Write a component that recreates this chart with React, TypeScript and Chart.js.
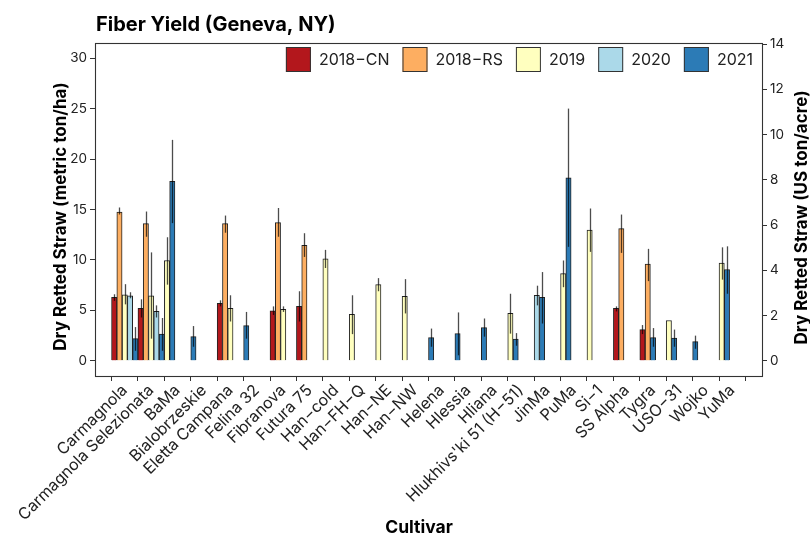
import React, { useEffect, useRef } from 'react';
import { Chart, registerables } from 'chart.js';

Chart.register(...registerables);

const N = null;

const CULTIVARS = [
  'Carmagnola', 'Carmagnola Selezionata', 'BaMa', 'Bialobrzeskie', 'Eletta Campana',
  'Felina 32', 'Fibranova', 'Futura 75', 'Han−cold', 'Han−FH−Q', 'Han−NE', 'Han−NW',
  'Helena', 'Hlessia', 'Hliana', "Hlukhivs'ki 51 (H−51)", 'JinMa', 'PuMa', 'Si−1',
  'SS Alpha', 'Tygra', 'USO−31', 'Wojko', 'YuMa',
];

const YEARS = ['2018−CN', '2018−RS', '2019', '2020', '2021'];
const COLORS = ['#B3171C', '#FDAE61', '#FFFFBF', '#ABD9E9', '#2C7BB6'];

// mean dry retted straw (metric ton/ha), with error bar low / high
const CN = [6.3, 5.2, N, N, 5.7, N, 4.95, 5.4, N, N, N, N, N, N, N, N, N, N, N, 5.2, 3.1, N, N, N];
const CN_LO = [5.95, 4.3, N, N, 5.4, N, 4.55, 3.9, N, N, N, N, N, N, N, N, N, N, N, 4.9, 2.65, N, N, N];
const CN_HI = [6.6, 6.1, N, N, 6.0, N, 5.4, 6.9, N, N, N, N, N, N, N, N, N, N, N, 5.4, 3.55, N, N, N];

const RS = [14.75, 13.6, N, N, 13.6, N, 13.7, 11.45, N, N, N, N, N, N, N, N, N, N, N, 13.1, 9.6, N, N, N];
const RS_LO = [14.5, 12.3, N, N, 12.7, N, 12.3, 10.3, N, N, N, N, N, N, N, N, N, N, N, 10.7, 7.9, N, N, N];
const RS_HI = [15.2, 14.8, N, N, 14.4, N, 15.15, 12.65, N, N, N, N, N, N, N, N, N, N, N, 14.5, 11.1, N, N, N];

const Y2019 = [6.55, 6.45, 9.95, N, 5.2, N, 5.1, N, 10.1, 4.6, 7.55, 6.4, N, N, N, 4.7, N, 8.65, 12.95, N, N, 4.0, N, 9.7];
const Y2019_LO = [5.6, 2.2, 7.55, N, 3.9, N, 4.85, N, 9.2, 2.65, 6.9, 4.7, N, N, N, 2.7, N, 7.3, 10.8, N, N, 4.0, N, 8.05];
const Y2019_HI = [7.6, 10.75, 12.25, N, 6.5, N, 5.4, N, 11.0, 6.5, 8.2, 8.1, N, N, N, 6.65, N, 9.95, 15.1, N, N, 4.0, N, 11.25];

const Y2020 = [6.45, 4.9, N, N, N, N, N, N, N, N, N, N, N, N, N, N, 6.5, N, N, N, N, N, N, N];
const Y2020_LO = [6.2, 4.3, N, N, N, N, N, N, N, N, N, N, N, N, N, N, 5.5, N, N, N, N, N, N, N];
const Y2020_HI = [6.8, 5.5, N, N, N, N, N, N, N, N, N, N, N, N, N, N, 7.45, N, N, N, N, N, N, N];

const Y2021 = [2.2, 2.65, 17.8, 2.4, N, 3.5, N, N, N, N, N, N, 2.3, 2.7, 3.3, 2.15, 6.3, 18.15, N, N, 2.3, 2.25, 1.9, 9.05];
const Y2021_LO = [1.0, 1.0, 13.65, 1.4, N, 2.2, N, N, N, N, N, N, 1.4, 0.55, 2.4, 1.5, 3.7, 11.3, N, N, 1.4, 1.4, 1.2, 6.65];
const Y2021_HI = [3.35, 4.25, 21.9, 3.45, N, 4.85, N, N, N, N, N, N, 3.2, 4.8, 4.2, 2.75, 8.8, 25.0, N, N, 3.25, 3.1, 2.5, 11.35];

const LEFT_TICKS = [0, 5, 10, 15, 20, 25, 30];
const RIGHT_TICKS = [0, 2, 4, 6, 8, 10, 12, 14];
const LEFT_MIN = -1.5;
const LEFT_MAX = 31.5;
const HA_PER_ACRE_FACTOR = 2.2417; // metric ton/ha per US ton/acre

const SERIES = [CN, RS, Y2019, Y2020, Y2021];
const LOWS = [CN_LO, RS_LO, Y2019_LO, Y2020_LO, Y2021_LO];
const HIGHS = [CN_HI, RS_HI, Y2019_HI, Y2020_HI, Y2021_HI];

const FONT = 'Inter, "Noto Sans", sans-serif';
const INK = '#222';
const SLOT = 1 / YEARS.length;

// dodge with "preserve single": present bars are packed from the left of the category
function slotX(seriesIdx: number, i: number) {
  let k = 0;
  for (let s = 0; s < seriesIdx; s++) if (SERIES[s][i] != null) k++;
  return i - 0.5 + (k + 0.5) * SLOT;
}

const panelPlugin = {
  id: 'panelDecor',
  afterDatasetsDraw(chart: any) {
    const { ctx, chartArea: a, scales } = chart;
    const y = scales.y;
    ctx.save();
    // error bars
    ctx.strokeStyle = 'rgba(0,0,0,0.7)';
    ctx.lineWidth = 1.3;
    chart.data.datasets.forEach((ds: any, di: number) => {
      const meta = chart.getDatasetMeta(di);
      meta.data.forEach((el: any, j: number) => {
        const raw = ds.data[j];
        if (raw.lo == null || raw.hi == null || raw.hi - raw.lo < 0.01) return;
        const x = Math.round(el.x) + 0.5;
        ctx.beginPath();
        ctx.moveTo(x, y.getPixelForValue(raw.lo));
        ctx.lineTo(x, y.getPixelForValue(raw.hi));
        ctx.stroke();
      });
    });
    // panel border
    ctx.strokeStyle = '#333';
    ctx.lineWidth = 1.1;
    ctx.strokeRect(Math.round(a.left) + 0.5, Math.round(a.top) + 0.5, Math.round(a.right - a.left), Math.round(a.bottom - a.top));
    ctx.restore();
  },
  afterDraw(chart: any) {
    const { ctx, chartArea: a } = chart;
    ctx.save();
    ctx.fillStyle = '#000';
    // title
    ctx.font = `bold 20px ${FONT}`;
    ctx.textAlign = 'left';
    ctx.textBaseline = 'alphabetic';
    ctx.fillText('Fiber Yield (Geneva, NY)', 96, 31);
    // x title
    ctx.font = `bold 17.5px ${FONT}`;
    ctx.textAlign = 'center';
    ctx.fillText('Cultivar', 419, 533);
    ctx.font = `bold 17px ${FONT}`;
    // left y title
    ctx.save();
    ctx.translate(66, (a.top + a.bottom) / 2 + 7);
    ctx.rotate(-Math.PI / 2);
    ctx.textAlign = 'center';
    ctx.fillText('Dry Retted Straw (metric ton/ha)', 0, 0);
    ctx.restore();
    // right y title
    ctx.save();
    ctx.translate(807, (a.top + a.bottom) / 2 + 8);
    ctx.rotate(-Math.PI / 2);
    ctx.textAlign = 'center';
    ctx.fillText('Dry Retted Straw (US ton/acre)', 0, 0);
    ctx.restore();
    // legend (inside panel, top-right)
    ctx.font = `16px ${FONT}`;
    ctx.textAlign = 'left';
    ctx.textBaseline = 'middle';
    const box = 25;
    const gapText = 8;
    const gapItem = 13;
    let xr = 753;
    const top = 47;
    const positions: number[] = [];
    for (let k = YEARS.length - 1; k >= 0; k--) {
      const w = ctx.measureText(YEARS[k]).width;
      const bx = xr - w - gapText - box;
      positions[k] = bx;
      xr = bx - gapItem;
    }
    YEARS.forEach((lab, k) => {
      const bx = positions[k];
      ctx.fillStyle = COLORS[k];
      ctx.fillRect(bx, top, box, box);
      ctx.strokeStyle = '#333';
      ctx.lineWidth = 1;
      ctx.strokeRect(bx + 0.5, top + 0.5, box - 1, box - 1);
      ctx.fillStyle = INK;
      ctx.fillText(lab, bx + box + gapText, top + box / 2 + 1);
    });
    ctx.restore();
  },
};

export default function App() {
  const ref = useRef<HTMLCanvasElement | null>(null);

  useEffect(() => {
    document.body.style.margin = '0';
    const canvas = ref.current;
    if (!canvas) return;

    const datasets = SERIES.map((vals, s) => ({
      label: YEARS[s],
      data: vals
        .map((v, i) => (v == null ? null : { x: slotX(s, i), y: v, lo: LOWS[s][i], hi: HIGHS[s][i] }))
        .filter((p) => p != null),
      backgroundColor: COLORS[s],
      borderColor: '#222',
      borderWidth: 1,
      grouped: false,
      barPercentage: 1,
      categoryPercentage: 1,
    }));

    const tickFont = { family: FONT, size: 13.5 };
    const grid = { drawOnChartArea: false, drawTicks: true, tickLength: 5, color: '#333', lineWidth: 1 };

    const chart = new Chart(canvas, {
      type: 'bar',
      data: { datasets } as any,
      plugins: [panelPlugin],
      options: {
        animation: false,
        responsive: false,
        devicePixelRatio: 1,
        layout: { padding: { top: 43, left: 0, right: 0, bottom: 0 } },
        plugins: { legend: { display: false }, tooltip: { enabled: false }, title: { display: false } },
        scales: {
          x: {
            type: 'linear',
            position: 'bottom',
            min: -0.6,
            max: CULTIVARS.length - 1 + 0.6,
            afterBuildTicks: (s: any) => { s.ticks = CULTIVARS.map((_, i) => ({ value: i })); },
            afterFit: (s: any) => { s.height = 537 - 376; },
            ticks: {
              autoSkip: false,
              minRotation: 45,
              maxRotation: 45,
              padding: 0,
              color: INK,
              font: { family: FONT, size: 16 },
              callback: (v: any) => CULTIVARS[v],
            },
            grid,
            border: { display: false },
          },
          y: {
            type: 'linear',
            position: 'left',
            min: LEFT_MIN,
            max: LEFT_MAX,
            afterBuildTicks: (s: any) => { s.ticks = LEFT_TICKS.map((v) => ({ value: v })); },
            afterFit: (s: any) => { s.width = 95; },
            ticks: { padding: 3, color: INK, font: tickFont },
            grid,
            border: { display: false },
          },
          y2: {
            type: 'linear',
            position: 'right',
            min: LEFT_MIN / HA_PER_ACRE_FACTOR,
            max: LEFT_MAX / HA_PER_ACRE_FACTOR,
            afterBuildTicks: (s: any) => { s.ticks = RIGHT_TICKS.map((v) => ({ value: v })); },
            afterFit: (s: any) => { s.width = 810 - 762; },
            ticks: { padding: 3, color: INK, font: tickFont },
            grid,
            border: { display: false },
          },
        },
      } as any,
    });

    return () => chart.destroy();
  }, []);

  return (
    <div style={{ width: 810, height: 537 }}>
      <canvas ref={ref} width={810} height={537} style={{ display: 'block', width: 810, height: 537 }} />
    </div>
  );
}
